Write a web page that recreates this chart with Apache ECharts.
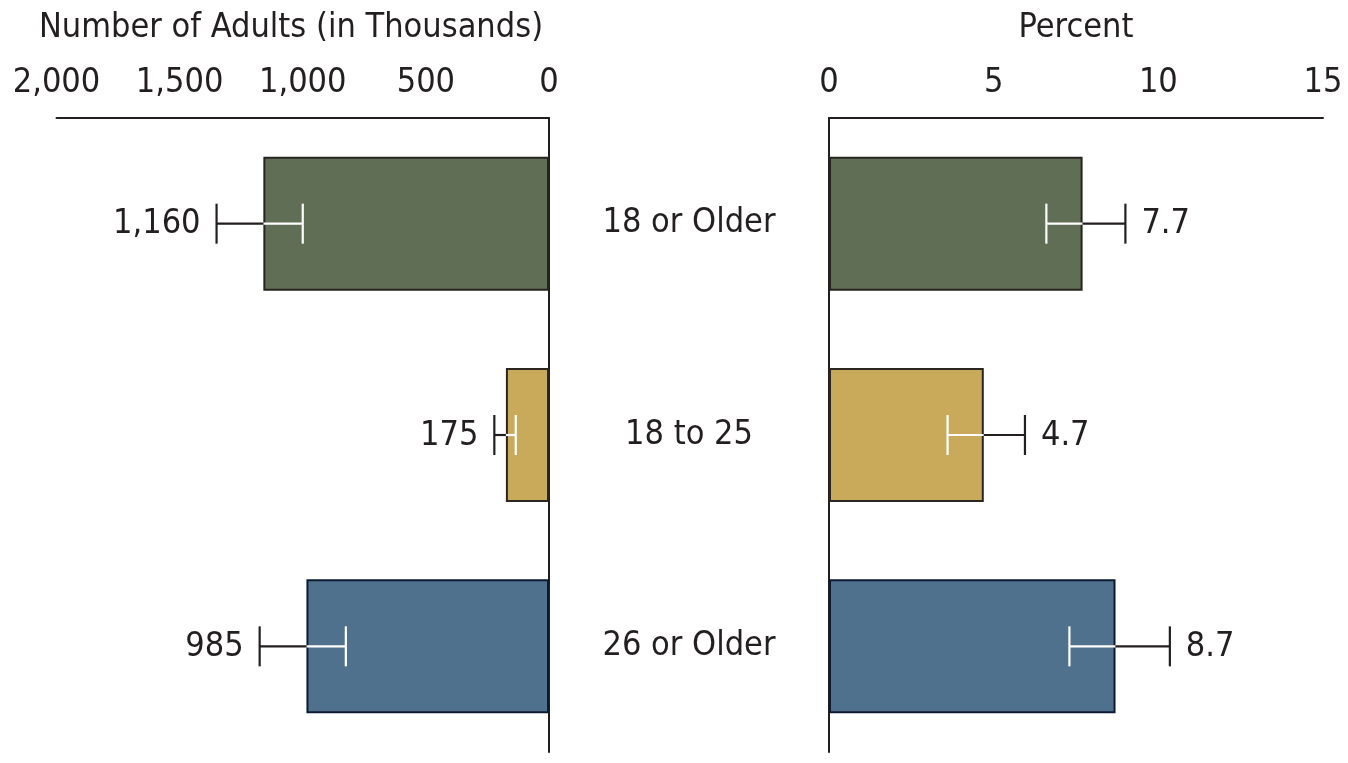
<!DOCTYPE html>
<html>
<head>
<meta charset="utf-8">
<script src="https://cdn.jsdelivr.net/npm/echarts@6.0.0/dist/echarts.min.js"></script>
<style>
html,body{margin:0;padding:0;background:#fff;}
#chart{width:1348px;height:763px;}
</style>
</head>
<body>
<div id="chart"></div>
<script>
// ---- data ----
const categories = ['18 or Older', '18 to 25', '26 or Older'];
const adultsValues = [1160, 175, 985];          // thousands
const adultsLow = [1000, 135, 825];
const adultsHigh = [1350, 222, 1175];
const percentValues = [7.7, 4.7, 8.7];
const percentLow = [6.6, 3.6, 7.3];
const percentHigh = [9.0, 5.95, 10.35];
const adultsTicks = [0, 500, 1000, 1500, 2000];
const percentTicks = [0, 5, 10, 15];
const barColors = ['#606e55', '#c8aa5a', '#50718d'];
const barBorders = ['#26241f', '#2a2620', '#0d1a33'];

const FONT = '"Liberation Sans Narrow", "Arial Narrow", "DejaVu Sans Condensed", "Liberation Sans", sans-serif';
const FS = 34;
const TXT = '#231f20';

const chart = echarts.init(document.getElementById('chart'), null, {renderer: 'canvas'});

function errData(vals, lows, highs) {
  return vals.map((v, i) => [i, v, lows[i], highs[i]]);
}

function makeErrRender(fmt) {
  return function (params, api) {
    const cat = api.value(0);
    const v = api.value(1), lo = api.value(2), hi = api.value(3);
    const pLo = api.coord([lo, cat]);
    const pV = api.coord([v, cat]);
    const pHi = api.coord([hi, cat]);
    const dir = pHi[0] > pV[0] ? 1 : -1;
    const y = pV[1];
    const cap = 20;
    return {
      type: 'group',
      children: [
        {type: 'line', shape: {x1: pLo[0], y1: y, x2: pV[0], y2: y}, style: {stroke: '#ffffff', lineWidth: 2.2}},
        {type: 'line', shape: {x1: pLo[0], y1: y - cap, x2: pLo[0], y2: y + cap}, style: {stroke: '#ffffff', lineWidth: 2.2}},
        {type: 'line', shape: {x1: pV[0], y1: y, x2: pHi[0], y2: y}, style: {stroke: TXT, lineWidth: 2.2}},
        {type: 'line', shape: {x1: pHi[0], y1: y - cap, x2: pHi[0], y2: y + cap}, style: {stroke: TXT, lineWidth: 2.2}},
        {type: 'text', x: pHi[0] + dir * 16, y: y + 1,
         style: {text: fmt(v), fill: TXT, font: FS + 'px ' + FONT,
                 align: dir > 0 ? 'left' : 'right', verticalAlign: 'middle'}}
      ]
    };
  };
}

const axisLineStyle = {show: true, lineStyle: {color: TXT, width: 2}};

const option = {
  animation: false,
  backgroundColor: '#ffffff',
  textStyle: {fontFamily: FONT},
  graphic: [
    {type: 'text', x: 291, y: 28, style: {text: 'Number of Adults (in Thousands)', font: FS + 'px ' + FONT, fill: TXT, align: 'center', verticalAlign: 'middle'}},
    {type: 'text', x: 1076, y: 28, style: {text: 'Percent', font: FS + 'px ' + FONT, fill: TXT, align: 'center', verticalAlign: 'middle'}}
  ],
  grid: [
    {left: 56.5, right: 799, top: 118, bottom: 11, containLabel: false},
    {left: 829, right: 25, top: 118, bottom: 11, containLabel: false}
  ],
  xAxis: [
    {gridIndex: 0, type: 'value', position: 'top', inverse: true,
     min: adultsTicks[0], max: adultsTicks[adultsTicks.length - 1], interval: adultsTicks[1] - adultsTicks[0],
     axisLine: axisLineStyle, axisTick: {show: false}, splitLine: {show: false},
     axisLabel: {margin: 18, color: TXT, fontSize: FS, fontFamily: FONT,
                 formatter: v => v.toLocaleString('en-US')}},
    {gridIndex: 1, type: 'value', position: 'top',
     min: percentTicks[0], max: percentTicks[percentTicks.length - 1], interval: percentTicks[1] - percentTicks[0],
     axisLine: axisLineStyle, axisTick: {show: false}, splitLine: {show: false},
     axisLabel: {margin: 18, color: TXT, fontSize: FS, fontFamily: FONT}}
  ],
  yAxis: [
    {gridIndex: 0, type: 'category', data: categories, inverse: true, position: 'right',
     axisLine: axisLineStyle, axisTick: {show: false},
     axisLabel: {margin: 140, align: 'center', color: TXT, fontSize: FS, fontFamily: FONT, padding: [4, 0, 0, 0]}},
    {gridIndex: 1, type: 'category', data: categories, inverse: true, position: 'left',
     axisLine: axisLineStyle, axisTick: {show: false}, axisLabel: {show: false}}
  ],
  series: [
    {type: 'bar', xAxisIndex: 0, yAxisIndex: 0, barWidth: 134,
     data: adultsValues.map((v, i) => ({value: v, itemStyle: {color: barColors[i], borderColor: barBorders[i], borderWidth: 2}}))},
    {type: 'bar', xAxisIndex: 1, yAxisIndex: 1, barWidth: 134,
     data: percentValues.map((v, i) => ({value: v, itemStyle: {color: barColors[i], borderColor: barBorders[i], borderWidth: 2}}))},
    {type: 'custom', xAxisIndex: 0, yAxisIndex: 0, z: 5,
     encode: {x: [1, 2, 3], y: 0},
     renderItem: makeErrRender(v => v.toLocaleString('en-US')),
     data: errData(adultsValues, adultsLow, adultsHigh)},
    {type: 'custom', xAxisIndex: 1, yAxisIndex: 1, z: 5,
     encode: {x: [1, 2, 3], y: 0},
     renderItem: makeErrRender(v => v.toFixed(1)),
     data: errData(percentValues, percentLow, percentHigh)}
  ]
};
chart.setOption(option);
</script>
</body>
</html>
